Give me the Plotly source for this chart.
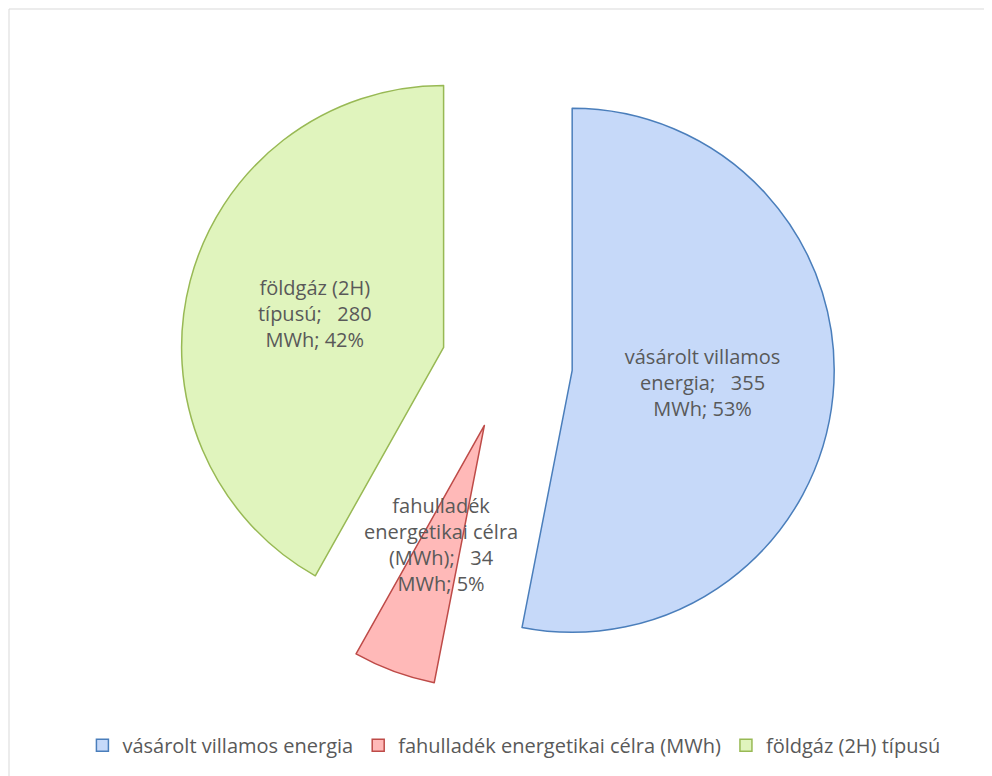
import numpy as np
import plotly.graph_objects as go

# data
labels = ["vásárolt villamos energia", "fahulladék energetikai célra (MWh)", "földgáz (2H) típusú"]
slice_text = ["vásárolt villamos<br>energia", "fahulladék<br>energetikai célra<br>(MWh)", "földgáz (2H)<br>típusú"]
values = [355, 34, 280]
unit = "MWh"

fills = ["#c6d9f9", "#ffb9b8", "#e0f4bd"]
edges = ["#4a7ebb", "#be4b48", "#98b954"]
grey = "#595959"
font = "'Open Sans', sans-serif"
fsize = 20

W, H = 992, 776
pull = 0.25
dom_x = [0.006, 1.0]
dom_y = [0.1192, 0.9633]

nbsp = "\u00a0"
tmpl = "%{text};" + nbsp * 3 + "%{value}<br>" + unit + "; %{percent:.0%}"
templates = [tmpl, "", tmpl]  # small slice gets its label placed separately

fig = go.Figure()
fig.add_trace(go.Pie(
    labels=labels, values=values, text=slice_text,
    texttemplate=templates, textposition="inside",
    insidetextorientation="horizontal",
    insidetextfont=dict(family=font, size=fsize, color=grey),
    sort=False, direction="clockwise", rotation=0,
    pull=[pull] * len(values),
    marker=dict(colors=fills, line=dict(color=edges, width=1.5)),
    domain=dict(x=dom_x, y=dom_y),
    hoverinfo="label+value+percent",
))

# label for the thin slice, placed along its bisector
tot = sum(values)
i = 1
mid = 2 * np.pi * (sum(values[:i]) + values[i] / 2) / tot
pw = (dom_x[1] - dom_x[0]) * W
ph = (dom_y[1] - dom_y[0]) * H
r = min(pw, ph) / (2 + 2 * pull)
cx = (dom_x[0] + dom_x[1]) / 2 * W
cy = (dom_y[0] + dom_y[1]) / 2 * H
d = 0.735 * r
pct = round(100 * values[i] / tot)
fig.add_annotation(
    x=(cx + d * np.sin(mid)) / W, y=(cy + d * np.cos(mid)) / H,
    xref="paper", yref="paper", xanchor="center", yanchor="middle",
    showarrow=False,
    text=slice_text[i] + ";" + nbsp * 3 + str(values[i]) + "<br>" + unit + "; " + str(pct) + "%",
    font=dict(family=font, size=fsize, color=grey), align="center",
)

# chart area frame
fig.add_shape(type="rect", xref="paper", yref="paper",
              x0=1 / W, x1=1.02, y0=-0.02, y1=1 - 1 / H,
              line=dict(color="#d9d9d9", width=1))

fig.update_layout(
    width=W, height=H,
    margin=dict(l=0, r=0, t=0, b=0),
    paper_bgcolor="white", plot_bgcolor="white",
    uniformtext=dict(minsize=fsize, mode="show"),
    showlegend=True,
    legend=dict(orientation="h", x=0.51, xanchor="center", y=0.05, yanchor="middle",
                itemwidth=30,
                font=dict(family=font, size=fsize, color=grey), traceorder="normal"),
)

fig.write_html("out.html")
